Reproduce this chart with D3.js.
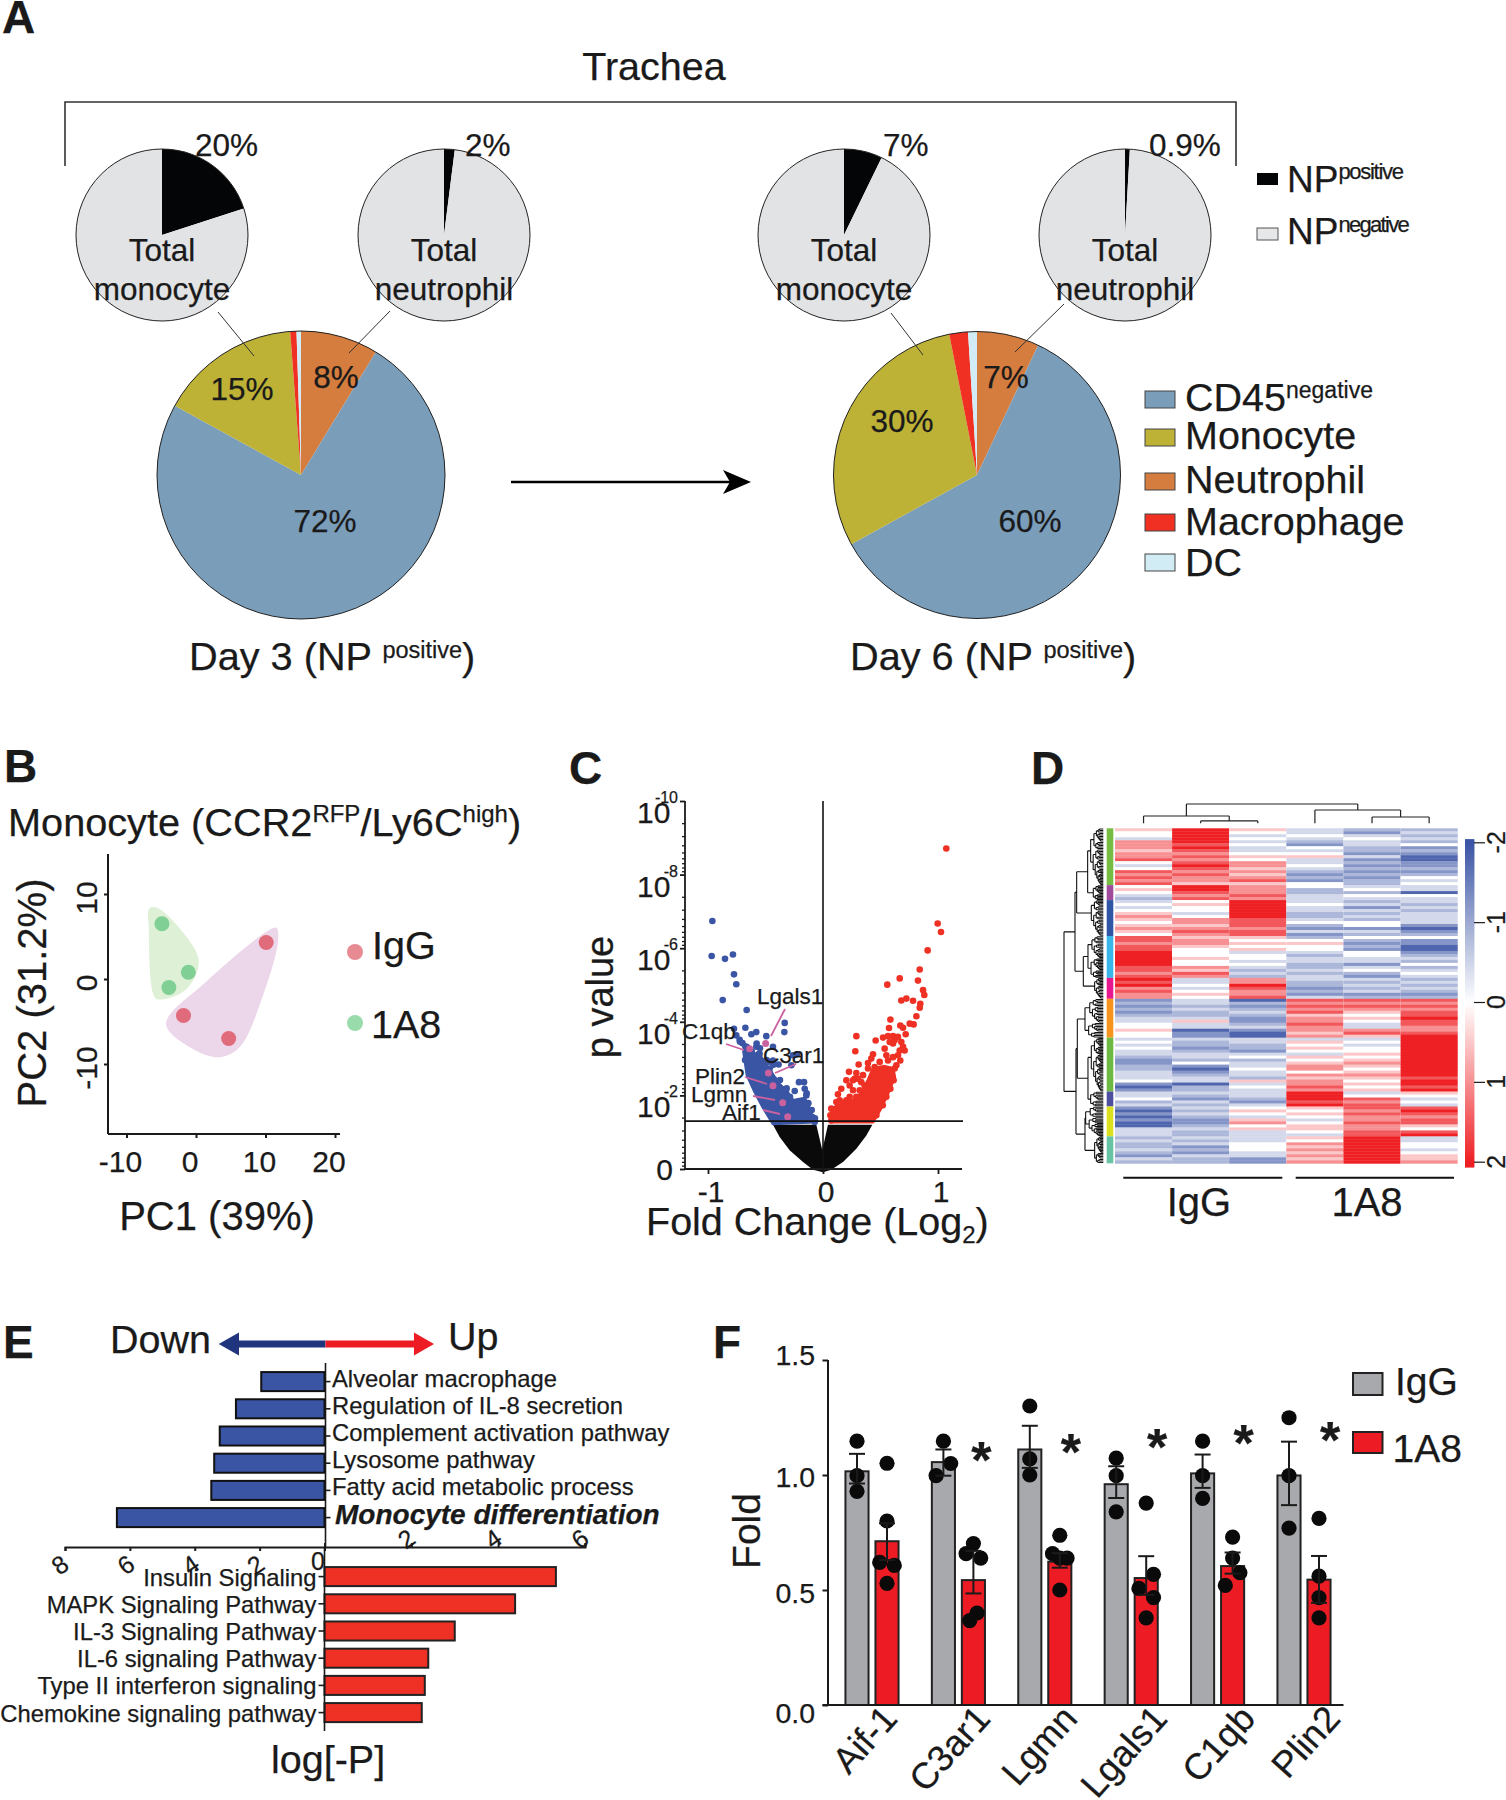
<!DOCTYPE html>
<html><head><meta charset="utf-8">
<script src="https://cdn.jsdelivr.net/npm/d3@7/dist/d3.min.js"></script>
<style>
html,body{margin:0;background:#fff}
svg{display:block}
text{font-family:"Liberation Sans",Arial,sans-serif;fill:#1a1a1a;stroke:#1a1a1a;stroke-width:.25px}
</style></head><body><svg id="c" width="1506" height="1800"></svg>
<script>
// ---------- Panel A data (percent of each pie, clockwise from 12 o'clock)
const cellTypes = ["Neutrophil","CD45negative","Monocyte","Macrophage","DC"];
const day3Shares = [8.7,74.3,15.8,0.7,0.5];
const day6Shares = [7,60,29.9,2.1,1.0];
const npPositiveShares = [20,2,7.2,0.9];
// ---------- Panel B data (PC1, PC2)
const pcaIgG = [[10.1,4.3],[-1.8,-4.3],[4.7,-7.0]];
const pca1A8 = [[-4.9,6.5],[-1.1,0.8],[-3.9,-1.0]];
const hullIgG = [[11.6,6.0],[11.8,4.4],[9.7,-1.8],[6.3,-8.0],[3.4,-9.2],[-0.5,-8.2],[-4.3,-5.3],[1.5,-0.3],[10.6,5.8]];
const hull1A8 = [[-6.7,8.3],[-5.7,8.4],[-2.4,6.0],[0.4,2.1],[-1.4,-1.2],[-4.8,-2.4],[-5.9,-2.2],[-6.8,6.0]];
// ---------- Panel C data (log2 fold, -log10 p)
const volcanoDown = [[-.962,6.74],[-.968,5.79],[-.852,5.71],[-.783,5.83],[-.774,5.29],[-.754,5.02],[-.872,4.59],[-.664,4.32],[-.333,3.97],[-.336,3.72],[-.675,3.84],[-.774,3.81],[-.623,3.66],[-.58,3.72],[-.493,3.61],[-.754,3.63],[-.725,3.51],[-.70,3.42],[-.675,3.33],[-.658,3.21],[-.58,3.32],[-.551,3.13],[-.435,3.32],[-.565,2.95],[-.435,2.95],[-.386,2.84],[-.522,2.91],[-.464,2.73],[-.261,3.09],[-.226,3.12],[-.275,2.82],[-.209,2.36],[-.165,2.36],[-.159,2.18],[-.145,2.0],[-.13,1.78],[-.246,2.12],[-.116,1.59],[-.093,1.41],[-.072,1.28],[-.667,2.95],[-.632,2.73],[-.6,2.5],[-.565,2.27],[-.536,2.05],[-.493,1.82],[-.464,1.59],[-.435,1.37],[-.42,2.41],[-.362,2.18],[-.319,2.05],[-.478,2.91],[-.722,3.46],[-.664,3.32],[-.62,3.19],[-.577,3.41],[-.548,3.28],[-.562,3.12],[-.606,2.96],[-.678,2.96],[-.49,2.96],[-.432,2.83],[-.548,2.87],[-.461,2.6],[-.374,2.42],[-.316,2.19],[-.403,2.24],[-.345,2.06],[-.287,1.96],[-.142,2.06],[-.272,1.79],[-.128,1.79],[-.098,1.6],[-.07,1.38]];
const volcanoUp = [[1.072,8.71],[.997,6.67],[1.026,6.44],[.91,5.94],[.841,5.42],[.667,5.18],[.826,5.12],[.559,5.01],[.87,4.86],[.881,4.73],[.681,4.58],[.725,4.63],[.783,4.57],[.846,4.49],[.841,4.38],[.812,4.15],[.586,4.06],[.754,3.95],[.788,3.93],[.672,3.9],[.696,3.84],[.574,3.83],[.29,3.61],[.522,3.57],[.565,3.61],[.609,3.61],[.652,3.59],[.458,3.49],[.58,3.45],[.623,3.5],[.719,3.66],[.681,3.45],[.281,3.2],[.536,3.27],[.667,3.22],[.71,3.22],[.652,3.09],[.435,3.12],[.42,3.0],[.551,3.09],[.565,2.95],[.672,2.95],[.638,2.82],[.31,2.84],[.391,2.88],[.226,2.64],[.29,2.61],[.449,2.77],[.203,2.41],[.275,2.45],[.304,2.45],[.348,2.55],[.261,2.14],[.159,2.18],[.13,2.03],[.232,1.96],[.319,2.14],[.391,2.05],[.188,1.78],[.116,1.82],[.072,1.64],[.064,1.46],[.072,1.32],[.101,1.55],[.464,1.46],[.52,1.73],[.551,1.96],[.586,2.18],[.614,2.41],[.493,2.68],[.362,2.27],[.319,1.96],[.246,1.68],[.145,1.59],[.58,2.68],[.623,2.73],[.391,2.73],[.493,2.91],[.609,3.04],[.696,3.32],[.609,3.41],[.261,2.41],[.232,2.27],[.333,2.36],[.29,1.96],[.203,1.87],[.145,1.87],[.087,1.5]];
const volcanoDownCore = [[-.69,3.2],[-.551,3.1],[-.478,2.75],[-.377,2.3],[-.29,2.0],[-.261,1.86],[-.159,1.92],[-.122,1.68],[-.072,1.28],[-.435,1.23],[-.522,1.68],[-.6,2.14],[-.66,2.55]];
const volcanoUpCore = [[.064,1.28],[.435,1.28],[.493,1.59],[.565,2.05],[.623,2.5],[.609,2.73],[.536,2.79],[.435,2.73],[.391,2.41],[.333,2.05],[.261,1.87],[.174,1.78],[.101,1.68]];
const volcanoNsEnvelope = [[-.435,1.2],[-.058,1.2],[-.006,.51],[.043,1.2],[.429,1.2],[.377,.91],[.29,.55],[.174,.19],[.072,-.02],[0,-.09],[-.087,-.02],[-.174,.19],[-.29,.51],[-.377,.87]];
const volcanoGenes = [["Lgals1",-.499,3.41],["C1qb",-.638,3.27],["C3ar1",-.475,2.61],["Plin2",-.435,2.26],["Lgmn",-.351,1.8],["Aif1",-.307,1.42]];
const volcanoMajor = [0,2,4,6,8,10];
// ---------- Panel D data: one string per sample, one digit per row; heatLevels gives z
const heatLevels = [-1.8,-1.25,-.85,-.45,0,.5,1,1.5,2];
const heatIgG1 = "5443666566"+"7434767674"+"5432343456"+"5456547767"+"7888887767"+"8786766"+"1212123344544"+"343433211223334101"+"33423"+"1010100333"+"232232132";
const heatIgG2 = "8888878767"+"6787676658"+"8767454434"+"6656765665"+"4445446576"+"3343454"+"3323223533011"+"322123324101233022"+"32132"+"3232112322"+"323121322";
const heatIgG3 = "5434343345"+"4665656756"+"6676888888"+"7776775454"+"5344343232"+"6687667"+"0212321123100"+"332213423343325343"+"33213"+"4543564533"+"334443311";
const heat1A8a = "3343214345"+"3343212144"+"2233343322"+"3421312454"+"4323322323"+"3221213"+"7676756676656"+"354543545664656676"+"88878"+"5454345543"+"546565656";
const heat1A8b = "2134332213"+"1212121223"+"4243231323"+"2441324212"+"1443313421"+"3232312"+"7676545433675"+"343445456545654545"+"34767"+"7676676677"+"888888888";
const heat1A8c = "2323241210"+"0112124343"+"3043323233"+"3310124110"+"0123242343"+"2323212"+"7676778776678"+"888888888888878878"+"54343"+"7876775478"+"334434556";
const heatSamples = [heatIgG1,heatIgG2,heatIgG3,heat1A8a,heat1A8b,heat1A8c];
const rowClusterEnds = [19,24,36,50,57,70,88,93,103,112];
const rowClusterColors = ["#76bc43","#a04a9e","#2f55a5","#3ab5e8","#e6178f","#f7941d","#6cb944","#4e4ea0","#dde01f","#66c4a4"];
const colorbarTicks = [-2,-1,0,1,2];
// ---------- Panel E data
const downTerms = ["Alveolar macrophage","Regulation of IL-8 secretion","Complement activation pathway","Lysosome pathway","Fatty acid metabolic process","Monocyte differentiation"];
const downValues = [1.95,2.73,3.23,3.4,3.49,6.4];
const upTerms = ["Insulin Signaling","MAPK Signaling Pathway","IL-3 Signaling Pathway","IL-6 signaling Pathway","Type II interferon signaling","Chemokine signaling pathway"];
const upValues = [5.33,4.39,3.0,2.39,2.31,2.24];
// ---------- Panel F data
const genes = ["Aif-1","C3ar1","Lgmn","Lgals1","C1qb","Plin2"];
const igGMeans = [1.016,1.056,1.111,.96,1.007,.998];
const a8Means = [.712,.543,.623,.552,.604,.545];
const igGErrTop = [1.092,1.111,1.214,1.038,1.089,1.145];
const igGErrBot = [.963,.997,1.031,.90,.944,.869];
const a8ErrTop = [.79,.67,.66,.647,.663,.648];
const a8ErrBot = [.63,.485,.597,.479,.571,.444];
const igGDots = [[1.147,.997,.929],[1.147,.997,1.05],[1.30,1.07,1.0],[1.073,.997,.84],[1.147,.997,.898],[1.249,.997,.769]];
const igGJitter = [[0,0,0],[0,-1,1],[0,0,0],[0,0,0],[0,0,0],[0,0,0]];
const a8Dots = [[1.051,.80,.62,.607,.529],[.702,.658,.639,.40,.367],[.738,.658,.639,.639,.50],[.878,.568,.507,.467,.379],[.73,.639,.575,.52],[.811,.56,.467,.379]];
const a8Jitter = [[0,0,-1,1,0],[0,-1,1,.5,-.5],[0,-1,1,0,0],[0,1,-1,1,0],[0,0,1,-1],[0,0,0,0]];
const starHeights = [1.09,1.125,1.15,1.165,1.18];

const svg = d3.select("#c");
const INK="#1a1a1a";
function T(x,y,s,size,o={}){
  const t=svg.append("text").attr("x",x).attr("y",y).attr("font-size",size).text(s);
  if(o.anchor)t.attr("text-anchor",o.anchor);
  if(o.weight)t.attr("font-weight",o.weight);
  if(o.style)t.attr("font-style",o.style);
  if(o.rotate!=null)t.attr("transform",`rotate(${o.rotate} ${x} ${y})`);
  return t;
}
function TS(x,y,parts,size,o={}){
  const t=svg.append("text").attr("x",x).attr("y",y).attr("font-size",size);
  if(o.anchor)t.attr("text-anchor",o.anchor);
  let prev=0;
  parts.forEach(p=>{const s=t.append("tspan").text(p[0]).attr("font-size",p[1]||size);
    const cur=p[2]||0; s.attr("dy",cur-prev); prev=cur; if(p[3])s.attr("letter-spacing",p[3]);});
  return t;
}
function styleAxis(g,w=2){g.selectAll("path,line").attr("stroke",INK).attr("stroke-width",w);g.selectAll("text").remove();return g;}

// panel letters
[["A",2,33],["B",4,782],["C",569,784],["D",1031,784],["E",3,1358],["F",713,1358]].forEach(d=>T(d[1],d[2],d[0],46,{weight:"bold"}));

// ================= PANEL A
const typeColor = d3.scaleOrdinal(cellTypes,["#d57d3f","#7a9dba","#bdb236","#ef3023","#d1ecf5"]);
T(654,80,"Trachea",39.5,{anchor:"middle"});
svg.append("path").attr("d",d3.line()([[65,166],[65,102],[1236,102],[1236,166]])).attr("fill","none").attr("stroke","#333").attr("stroke-width",1.6);
const pieGen=d3.pie().sort(null).value(d=>d);
function bigPie(cx,cy,r,vals){
  const g=svg.append("g").attr("transform",`translate(${cx},${cy})`);
  const arc=d3.arc().innerRadius(0).outerRadius(r);
  g.selectAll("path").data(pieGen(vals)).join("path").attr("d",arc).attr("fill",(d,i)=>typeColor(cellTypes[i]));
  g.append("circle").attr("r",r).attr("fill","none").attr("stroke","#222").attr("stroke-width",1);
}
function smallPie(cx,cy,r,pos){
  const g=svg.append("g").attr("transform",`translate(${cx},${cy})`);
  const arc=d3.arc().innerRadius(0).outerRadius(r);
  g.selectAll("path").data(pieGen([pos,100-pos])).join("path").attr("d",arc).attr("fill",(d,i)=>i?"#e2e3e5":"#040506");
  g.append("circle").attr("r",r).attr("fill","none").attr("stroke","#222").attr("stroke-width",1);
}
bigPie(301,475,144,day3Shares); bigPie(977,475,143.5,day6Shares);
const smallCx=[162,444,844,1125];
smallCx.forEach((x,i)=>smallPie(x,235,86,npPositiveShares[i]));
[[218,312,254,356],[390,311,349,353],[891,313,923,355],[1064,304,1015,352]].forEach(l=>
  svg.append("line").attr("x1",l[0]).attr("y1",l[1]).attr("x2",l[2]).attr("y2",l[3]).attr("stroke","#333").attr("stroke-width",1));
[[195,"20%"],[465,"2%"],[883,"7%"],[1149,"0.9%"]].forEach(d=>T(d[0],156,d[1],31.5));
smallCx.forEach((x,i)=>{T(x,261,"Total",31.5,{anchor:"middle"});T(x,300,i%2?"neutrophil":"monocyte",31.5,{anchor:"middle"});});
[[242,400,"15%"],[336,388,"8%"],[325,532,"72%"],[902,432,"30%"],[1006,388,"7%"],[1030,532,"60%"]].forEach(d=>T(d[0],d[1],d[2],31.5,{anchor:"middle"}));
[[189,"Day 3"],[850,"Day 6"]].forEach(d=>TS(d[0],670,[[d[1]+" (NP "],["positive",23.5,-12],[")",39.7,0]],39.7));
// arrow
svg.append("line").attr("x1",511).attr("x2",735).attr("y1",482).attr("y2",482).attr("stroke","#000").attr("stroke-width",2.5);
svg.append("path").attr("d",d3.line()([[751,482],[723,470],[730,482],[723,494]])).attr("fill","#000");
// NP legend
svg.append("rect").attr("x",1257).attr("y",173).attr("width",21).attr("height",12).attr("fill","#040506");
svg.append("rect").attr("x",1257).attr("y",228).attr("width",21).attr("height",12).attr("fill","#e6e7e8").attr("stroke","#555");
TS(1287,192,[["NP"],["positive",22,-13,-1.3]],37);
TS(1287,244,[["NP"],["negative",22,-12,-1.7]],37);
// type legend
[["#7a9dba",391,411],["#bdb236",429,449],["#d57d3f",473,491],["#ef3023",514,533],["#d1ecf5",554,575]].forEach(d=>
  svg.append("rect").attr("x",1145).attr("y",d[1]).attr("width",30).attr("height",17).attr("fill",d[0]).attr("stroke","#444"));
TS(1185,411,[["CD45"],["negative",23,-13]],39.5);
T(1185,449,"Monocyte",39.5);T(1185,493,"Neutrophil",39.5);T(1185,535,"Macrophage",39.5);T(1185,576,"DC",39.5);

// ================= PANEL B
TS(8,836,[["Monocyte (CCR2"],["RFP",24,-14],["/Ly6C",39.7,0],["high",24,-14],[")",39.7,0]],39.7);
const bx=d3.scaleLinear([-10,20],[126.5,335]), by=d3.scaleLinear([-10,10],[1064,894]);
const bX0=108,bY0=1134;
const hullLine=d3.line().x(d=>bx(d[0])).y(d=>by(d[1])).curve(d3.curveCatmullRomClosed.alpha(.5));
svg.append("path").attr("d",hullLine(hullIgG)).attr("fill","#ecd6ea");
svg.append("path").attr("d",hullLine(hull1A8)).attr("fill","#def0d6");
svg.selectAll(null).data(pcaIgG).join("circle").attr("cx",d=>bx(d[0])).attr("cy",d=>by(d[1])).attr("r",7.5).attr("fill","#e06b7b");
svg.selectAll(null).data(pca1A8).join("circle").attr("cx",d=>bx(d[0])).attr("cy",d=>by(d[1])).attr("r",7.5).attr("fill","#80cf95");
styleAxis(svg.append("g").attr("transform",`translate(0,${bY0})`).call(d3.axisBottom(bx).tickValues([-10,0,10,20]).tickSize(4))).select(".domain").attr("d",`M${bX0},0H340`);
styleAxis(svg.append("g").attr("transform",`translate(${bX0},0)`).call(d3.axisLeft(by).tickValues([-10,0,10]).tickSize(4))).select(".domain").attr("d",`M0,854V${bY0}`);
[-10,0,10,20].forEach(v=>T(bx(v)-6,1172,v,30,{anchor:"middle"}));
[-10,0,10].forEach(v=>T(97,by(v)+4,v,30,{anchor:"middle",rotate:-90}));
T(217,1230,"PC1 (39%)",40,{anchor:"middle"});
T(46,993,"PC2 (31.2%)",40,{anchor:"middle",rotate:-90});
svg.append("circle").attr("cx",355).attr("cy",952).attr("r",8).attr("fill","#e88a92");
svg.append("circle").attr("cx",355).attr("cy",1023).attr("r",8).attr("fill","#9adbac");
T(372,959,"IgG",39.5);T(371,1038,"1A8",39.5);

// ================= PANEL C
const vx=d3.scaleLinear([-1,1],[708,938]), vy=d3.scaleLinear([0,10],[1169,801]);
const poly=d3.line().x(d=>vx(d[0])).y(d=>vy(d[1]));
svg.append("path").attr("d",poly(volcanoNsEnvelope)+"Z").attr("fill","#0a0a0a");
svg.append("path").attr("d",poly(volcanoDownCore)+"Z").attr("fill","#3b55a5").attr("stroke","#3b55a5").attr("stroke-width",3).attr("stroke-linejoin","round");
svg.append("path").attr("d",poly(volcanoUpCore)+"Z").attr("fill","#ee3124").attr("stroke","#ee3124").attr("stroke-width",3).attr("stroke-linejoin","round");
svg.selectAll(null).data(volcanoDown).join("circle").attr("cx",d=>vx(d[0])).attr("cy",d=>vy(d[1])).attr("r",3.3).attr("fill","#3b55a5");
svg.selectAll(null).data(volcanoUp).join("circle").attr("cx",d=>vx(d[0])).attr("cy",d=>vy(d[1])).attr("r",3.3).attr("fill","#ee3124");
svg.selectAll(null).data(volcanoGenes).join("circle").attr("cx",d=>vx(d[1])).attr("cy",d=>vy(d[2])).attr("r",3.5).attr("fill","#c9619f");
[[785,1009,771,1036],[726,1044,744,1050],[796,1064,775,1073],[745,1077,767,1084],[753,1096,775,1100],[763,1110,780,1114]].forEach(l=>
  svg.append("line").attr("x1",l[0]).attr("y1",l[1]).attr("x2",l[2]).attr("y2",l[3]).attr("stroke","#c9619f").attr("stroke-width",1.8));
[[757,1004],[682,1039],[763,1063],[695,1084],[691,1102],[722,1120]].forEach((p,i)=>T(p[0],p[1],volcanoGenes[i][0],22.5));
const minorVals=[];volcanoMajor.slice(1).forEach(hi=>d3.range(2,10).forEach(k=>minorVals.push(hi-2*Math.log10(k))));
styleAxis(svg.append("g").attr("transform","translate(685,0)").call(d3.axisLeft(vy).tickValues(minorVals).tickSize(3)),1.3).select(".domain").remove();
styleAxis(svg.append("g").attr("transform","translate(685,0)").call(d3.axisLeft(vy).tickValues(volcanoMajor).tickSize(5)),1.8).select(".domain").attr("d","M0,801V1169");
styleAxis(svg.append("g").attr("transform","translate(0,1169)").call(d3.axisBottom(vx).tickValues([-1,0,1]).tickSize(5)),1.8).select(".domain").attr("d","M685,0H962");
svg.append("line").attr("x1",685).attr("x2",963).attr("y1",vy(1.3)).attr("y2",vy(1.3)).attr("stroke","#111").attr("stroke-width",1.6);
svg.append("line").attr("x1",vx(0)).attr("x2",vx(0)).attr("y1",801).attr("y2",1169).attr("stroke","#111").attr("stroke-width",1.6);
volcanoMajor.filter(v=>v).forEach(v=>{T(637,vy(v)+22,"10",30);T(678,vy(v)+2,"-"+v,16,{anchor:"end"});});
T(673,1180,"0",30,{anchor:"end"});
[[-1,711],[0,826],[1,941]].forEach(d=>T(d[1],1202,d[0],30,{anchor:"middle"}));
T(613,997,"p value",38,{anchor:"middle",rotate:-90});
TS(646,1235,[["Fold Change (Log"],["2",24,8],[")",39.5,0]],39.5);

// ================= PANEL D
const hx=d3.scaleBand(d3.range(6),[1115,1457.7]);
const hy=d3.scaleLinear([0,112],[828.3,1163.3]);
const zColor=d3.scaleLinear([-2,0,2],["#3b55a5","#ffffff","#ee2024"]);
heatSamples.forEach((s,c)=>{
  svg.append("g").selectAll("rect").data(Array.from(s).map(ch=>heatLevels[+ch])).join("rect")
    .attr("x",hx(c)).attr("width",hx.bandwidth()).attr("y",(d,i)=>hy(i)).attr("height",hy(1)-hy(0)+.4).attr("fill",d=>zColor(d));
});
rowClusterEnds.forEach((e,i)=>{const s=i?rowClusterEnds[i-1]:0;
  svg.append("rect").attr("x",1106.7).attr("width",6.6).attr("y",hy(s)).attr("height",hy(e)-hy(s)).attr("fill",rowClusterColors[i]);});
// column dendrogram
const colTree={h:58,kids:[{h:22,kids:[{leaf:0},{h:7,kids:[{leaf:1},{leaf:2}]}]},{h:40,kids:[{leaf:3},{h:19,kids:[{leaf:4},{leaf:5}]}]}]};
const colH=d3.scaleLinear([0,58],[823.3,804]);
let dp=d3.path();
(function walk(n){ if(n.leaf!=null){n.px=hx(n.leaf)+hx.bandwidth()/2;n.ph=0;return;}
  n.kids.forEach(walk);n.px=d3.mean(n.kids,k=>k.px);n.ph=n.h;
  n.kids.forEach(k=>{dp.moveTo(k.px,colH(k.ph));dp.lineTo(k.px,colH(n.h));});
  dp.moveTo(n.kids[0].px,colH(n.h));dp.lineTo(n.kids[1].px,colH(n.h));})(colTree);
svg.append("path").attr("d",dp.toString()).attr("fill","none").attr("stroke","#222").attr("stroke-width",1.2);
// row dendrogram
const rowH=d3.scaleLinear([0,118],[1103.3,1064]);
const rowTree={h:118,kids:[{h:85,kids:[{h:80,kids:[{h:47,kids:[{h:38,seg:0},{h:30,seg:1}]},{h:36,seg:2}]},{h:60,kids:[{h:46,seg:3},{h:26,seg:4}]}]},
 {h:82,kids:[{h:78,kids:[{h:55,seg:5},{h:46,kids:[{h:36,seg:6},{h:38,seg:7}]}]},{h:55,kids:[{h:53,seg:8},{h:26,seg:9}]}]}]};
function comb(a,b,h,depth){
  if(b-a<=1) return {leafY:hy((a+.5)/2),h:0};
  const f=[.36,.62,.3,.55][depth%4];
  const m=a+Math.max(1,Math.round((b-a)*f));
  return {h:h,kids:[comb(a,m,h*.74,depth+1),comb(m,b,h*.8,depth+2)]};
}
function expand(n){ if(n.seg!=null){const s=n.seg?rowClusterEnds[n.seg-1]:0;return comb(s*2,rowClusterEnds[n.seg]*2,n.h,n.seg);}
  if(n.kids) return {h:n.h,kids:n.kids.map(expand)}; return n;}
let rp=d3.path();
(function walk(n){ if(n.leafY!=null){n.py=n.leafY;return;}
  n.kids.forEach(walk);n.py=d3.mean(n.kids,k=>k.py);
  n.kids.forEach(k=>{rp.moveTo(rowH(k.h),k.py);rp.lineTo(rowH(n.h),k.py);});
  rp.moveTo(rowH(n.h),n.kids[0].py);rp.lineTo(rowH(n.h),n.kids[1].py);})(expand(rowTree));
svg.append("path").attr("d",rp.toString()).attr("fill","none").attr("stroke","#111").attr("stroke-width",1.1);
// colorbar
const cby=d3.scaleLinear([-2,2],[842.3,1161.7]);
const cbValues=d3.range(-2.04,2.05,.02);
svg.append("g").selectAll("rect").data(cbValues).join("rect").attr("x",1465).attr("width",9.3)
  .attr("y",d=>cby(d)).attr("height",cby(.03)-cby(0)+.3).attr("fill",d=>zColor(Math.max(-2,Math.min(2,d))));
styleAxis(svg.append("g").attr("transform","translate(1474,0)").call(d3.axisRight(cby).tickValues(colorbarTicks).tickSize(11)),1.2).select(".domain").remove();
colorbarTicks.forEach(v=>T(1505,cby(v),v,25,{anchor:"middle",rotate:-90}));
[[1123.3,1282.3],[1295.7,1454]].forEach(d=>svg.append("line").attr("x1",d[0]).attr("x2",d[1]).attr("y1",1177.7).attr("y2",1177.7).attr("stroke","#111").attr("stroke-width",2));
T(1199,1216,"IgG",40,{anchor:"middle"});T(1367,1216,"1A8",40,{anchor:"middle"});

// ================= PANEL E
const ex=324.5;
const xDown=d3.scaleLinear([0,8],[ex,65]), xUp=d3.scaleLinear([0,6],[ex,585]);
const yDown=d3.scaleBand(downTerms,[1368,1531.2]).paddingInner(.3).paddingOuter(.15);
const yUp=d3.scaleBand(upTerms,[1563,1726.2]).paddingInner(.3).paddingOuter(.15);
svg.append("g").selectAll("rect").data(downValues).join("rect").attr("x",d=>xDown(d)).attr("width",d=>ex-xDown(d))
  .attr("y",(d,i)=>yDown(downTerms[i])).attr("height",yDown.bandwidth()).attr("fill","#3b55a5").attr("stroke","#111").attr("stroke-width",2);
svg.append("g").selectAll("rect").data(upValues).join("rect").attr("x",ex).attr("width",d=>xUp(d)-ex)
  .attr("y",(d,i)=>yUp(upTerms[i])).attr("height",yUp.bandwidth()).attr("fill","#ee3124").attr("stroke","#222").attr("stroke-width",2);
styleAxis(svg.append("g").attr("transform","translate(0,1547)").call(d3.axisBottom(xDown).tickValues([0,2,4,6,8]).tickSize(4)));
styleAxis(svg.append("g").attr("transform","translate(0,1547)").call(d3.axisTop(xUp).tickValues([2,4,6]).tickSize(4)));
styleAxis(svg.append("g").attr("transform",`translate(${ex+1},0)`).call(d3.axisRight(yDown).tickSize(5)),1.6).select(".domain").attr("d","M0,1363V1547");
styleAxis(svg.append("g").attr("transform",`translate(${ex},0)`).call(d3.axisLeft(yUp).tickSize(6)),1.6).select(".domain").attr("d","M0,1547V1731");
downTerms.forEach((t,i)=>{const y=yDown(t)+yDown.bandwidth()/2+5;
  if(i==5)T(335,y+1,t,28,{weight:"bold",style:"italic"});else T(332,y,t,23.8);});
upTerms.forEach(t=>T(316.5,yUp(t)+yUp.bandwidth()/2+9,t,23.8,{anchor:"end"}));
[8,6,4,2].forEach(v=>{const x=xDown(v)+(v==8?0:1);T(x,1572,v,25,{anchor:"middle",rotate:-35});});
T(318,1570,"0",25,{anchor:"middle"});
[2,4,6].forEach(v=>T(xUp(v),1546,v,25,{anchor:"middle",rotate:-35}));
// direction arrow
svg.append("path").attr("d",d3.line()([[325.5,1340.5],[239,1340.5],[239,1332.5],[218.7,1344],[239,1355.5],[239,1347.5],[325.5,1347.5]])+"Z").attr("fill","#21357f");
svg.append("path").attr("d",d3.line()([[325.5,1340.5],[414,1340.5],[414,1332.5],[434,1344],[414,1355.5],[414,1347.5],[325.5,1347.5]])+"Z").attr("fill","#ed1c24");
T(110,1353,"Down",39.5);T(448,1350,"Up",39.5);
T(271,1773,"log[-P]",39.5);

// ================= PANEL F
const fy=d3.scaleLinear([0,1.5],[1705,1360]);
const fx=d3.scaleBand(genes,[828.8,1347.2]);
const fs=d3.scaleBand(["IgG","1A8"],[13.2,73.2]);
const barW=fs.bandwidth()*.77;
function series(name,means,color,top,bot,dots,jit){
  const cx=i=>fx(genes[i])+fs(name)+fs.bandwidth()/2;
  svg.append("g").selectAll("rect").data(means).join("rect").attr("x",(d,i)=>cx(i)-barW/2).attr("width",barW)
    .attr("y",d=>fy(d)).attr("height",d=>1705-fy(d)).attr("fill",color).attr("stroke","#222").attr("stroke-width",2);
  dots.forEach((ds,i)=>svg.append("g").selectAll("circle").data(ds).join("circle")
    .attr("cx",(d,k)=>cx(i)+jit[i][k]*7.3).attr("cy",d=>fy(d)).attr("r",7.6).attr("fill","#0a0a0a"));
  means.forEach((m,i)=>{const g=svg.append("g").attr("stroke","#1a1a1a").attr("stroke-width",2);
    g.append("line").attr("x1",cx(i)).attr("x2",cx(i)).attr("y1",fy(top[i])).attr("y2",fy(bot[i]));
    [top[i],bot[i]].forEach(v=>g.append("line").attr("x1",cx(i)-8).attr("x2",cx(i)+8).attr("y1",fy(v)).attr("y2",fy(v)));});
}
series("IgG",igGMeans,"#a7a9ac",igGErrTop,igGErrBot,igGDots,igGJitter);
series("1A8",a8Means,"#ed1c24",a8ErrTop,a8ErrBot,a8Dots,a8Jitter);
styleAxis(svg.append("g").attr("transform","translate(828,0)").call(d3.axisLeft(fy).tickValues([0,.5,1,1.5]).tickSize(5.5))).select(".domain").attr("d","M0,1360V1705");
svg.append("line").attr("x1",822.5).attr("x2",1343.5).attr("y1",1705).attr("y2",1705).attr("stroke","#1a1a1a").attr("stroke-width",2);
[[0,1723],[.5,1603],[1,1487],[1.5,1365]].forEach(d=>T(815,d[1],d[0].toFixed(1),28.5,{anchor:"end"}));
genes.forEach((g,i)=>{const x=[899,992,1079,1169,1257,1342][i];T(x,1720,g,36.5,{anchor:"end",rotate:-48});});
genes.slice(1).forEach((g,i)=>T(fx(g)+fs("1A8")+fs.bandwidth()/2+(i?11:8),fy(starHeights[i])+24,"*",52,{anchor:"middle",weight:"bold"}));
T(760,1531,"Fold",39,{anchor:"middle",rotate:-90});
svg.append("rect").attr("x",1353).attr("y",1373).attr("width",29.5).attr("height",22).attr("fill","#a7a9ac").attr("stroke","#222").attr("stroke-width",2);
svg.append("rect").attr("x",1353).attr("y",1432).attr("width",29.5).attr("height",21).attr("fill","#ed1c24").attr("stroke","#222").attr("stroke-width",2);
T(1395,1395,"IgG",39);T(1392.5,1462,"1A8",39);
</script></body></html>
